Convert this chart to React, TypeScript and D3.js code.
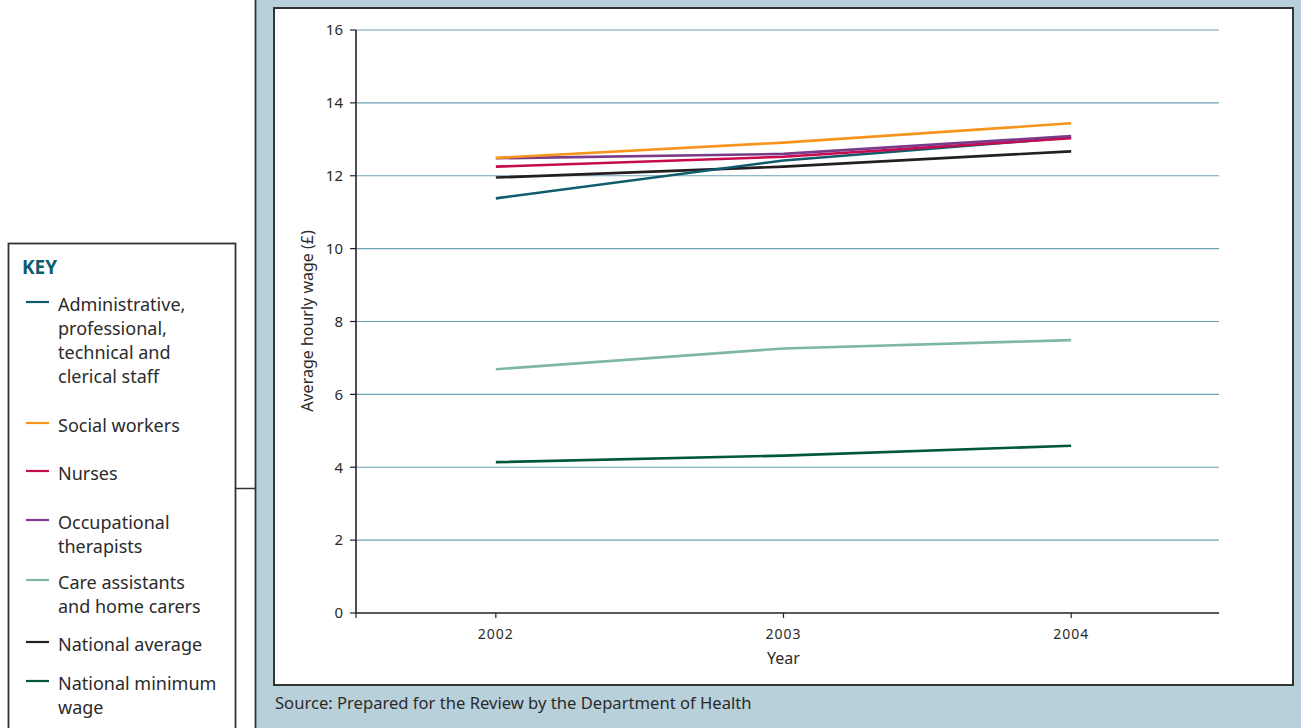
import React from "react";
import * as d3 from "d3";

const years = ["2002", "2003", "2004"];
const admin = [11.38, 12.42, 13.05];
const socialWorkers = [12.49, 12.91, 13.44];
const nurses = [12.25, 12.52, 13.03];
const occupational = [12.48, 12.6, 13.09];
const careAssistants = [6.69, 7.26, 7.49];
const nationalAverage = [11.95, 12.25, 12.67];
const minimumWage = [4.14, 4.32, 4.59];
const yTicks = [0, 2, 4, 6, 8, 10, 12, 14, 16];

const seriesList = [
  { name: "National minimum wage", values: minimumWage, color: "#00573f" },
  { name: "Care assistants and home carers", values: careAssistants, color: "#7fb8a0" },
  { name: "National average", values: nationalAverage, color: "#231f20" },
  { name: "Administrative, professional, technical and clerical staff", values: admin, color: "#0e5c6b" },
  { name: "Nurses", values: nurses, color: "#c80a50" },
  { name: "Occupational therapists", values: occupational, color: "#7c3a8a" },
  { name: "Social workers", values: socialWorkers, color: "#f7941d" },
];

const legendItems = [
  { lines: ["Administrative,", "professional,", "technical and", "clerical staff"], color: "#0e5c6b", y: 302 },
  { lines: ["Social workers"], color: "#f7941d", y: 423 },
  { lines: ["Nurses"], color: "#c80a50", y: 471 },
  { lines: ["Occupational", "therapists"], color: "#7c3a8a", y: 520 },
  { lines: ["Care assistants", "and home carers"], color: "#7fb8a0", y: 580 },
  { lines: ["National average"], color: "#231f20", y: 642 },
  { lines: ["National minimum", "wage"], color: "#00573f", y: 681 },
];

export default function App() {
  const plotLeft = 356;
  const plotRight = 1219;
  const x = d3.scalePoint<string>().domain(years).range([352, 1215]).padding(0.5);
  const y = d3.scaleLinear().domain([0, 16]).range([613, 30]);
  const line = d3
    .line<number>()
    .x((_, i) => x(years[i]) as number)
    .y((d) => y(d));
  const font = "'Noto Sans', 'Open Sans', sans-serif";
  const textColor = "#2b2b2b";

  return (
    <svg
      width={1301}
      height={728}
      style={{ position: "absolute", left: 0, top: 0, display: "block" }}
      fontFamily={font}
    >
      <rect x={0} y={0} width={1301} height={728} fill="#ffffff" />
      {/* blue panel */}
      <rect x={256} y={0} width={1045} height={728} fill="#b8d0da" />
      <line x1={255.5} y1={0} x2={255.5} y2={728} stroke="#333" strokeWidth={1.8} />
      <rect x={274} y={8} width={1019} height={677} fill="#ffffff" stroke="#333" strokeWidth={2} />

      {/* key box */}
      <rect x={8.5} y={243.5} width={227} height={500} fill="#ffffff" stroke="#333" strokeWidth={1.8} />
      <line x1={236} y1={488.5} x2={256} y2={488.5} stroke="#333" strokeWidth={1.5} />
      <text x={22} y={274} fontSize={19} fontWeight="bold" fill="#0e5c6b">KEY</text>
      {legendItems.map((item) => (
        <g key={item.lines[0]}>
          <line x1={26} x2={49} y1={item.y} y2={item.y} stroke={item.color} strokeWidth={2.2} />
          {item.lines.map((l, j) => (
            <text key={l} x={58} y={item.y + 9 + j * 24} fontSize={18} fill={textColor}>
              {l}
            </text>
          ))}
        </g>
      ))}

      {/* gridlines */}
      {yTicks.filter((t) => t > 0).map((t) => (
        <line key={t} x1={plotLeft} x2={plotRight} y1={y(t)} y2={y(t)} stroke="#6ea2b4" strokeWidth={1.2} />
      ))}
      {/* y axis */}
      <line x1={plotLeft} x2={plotLeft} y1={y(16)} y2={y(0)} stroke="#222" strokeWidth={1.6} />
      {yTicks.map((t) => (
        <g key={"yt" + t}>
          <line x1={plotLeft - 6} x2={plotLeft} y1={y(t)} y2={y(t)} stroke="#222" strokeWidth={1.2} />
          <text x={343} y={y(t)} dy="0.35em" textAnchor="end" fontSize={15} fill={textColor}>
            {t}
          </text>
        </g>
      ))}
      {/* x axis */}
      <line x1={plotLeft} x2={plotRight} y1={y(0)} y2={y(0)} stroke="#222" strokeWidth={1.6} />
      <line x1={plotLeft} x2={plotLeft} y1={y(0)} y2={y(0) + 5} stroke="#222" strokeWidth={1.2} />
      {years.map((yr) => (
        <g key={yr}>
          <line x1={x(yr)} x2={x(yr)} y1={y(0)} y2={y(0) + 5} stroke="#222" strokeWidth={1.2} />
          <text x={x(yr)} y={639} textAnchor="middle" fontSize={14} letterSpacing={1} fill={textColor}>
            {yr}
          </text>
        </g>
      ))}
      <text x={x("2003")} y={664} textAnchor="middle" fontSize={16} fill={textColor}>Year</text>
      <text
        transform={`translate(313, 321) rotate(-90)`}
        textAnchor="middle"
        fontSize={16}
        fill={textColor}
      >
        Average hourly wage (£)
      </text>

      {/* series */}
      {seriesList.map((s) => (
        <path key={s.name} d={line(s.values) || ""} fill="none" stroke={s.color} strokeWidth={2.6} />
      ))}

      <text x={275} y={709} fontSize={16.6} fill={textColor}>
        Source: Prepared for the Review by the Department of Health
      </text>
    </svg>
  );
}
